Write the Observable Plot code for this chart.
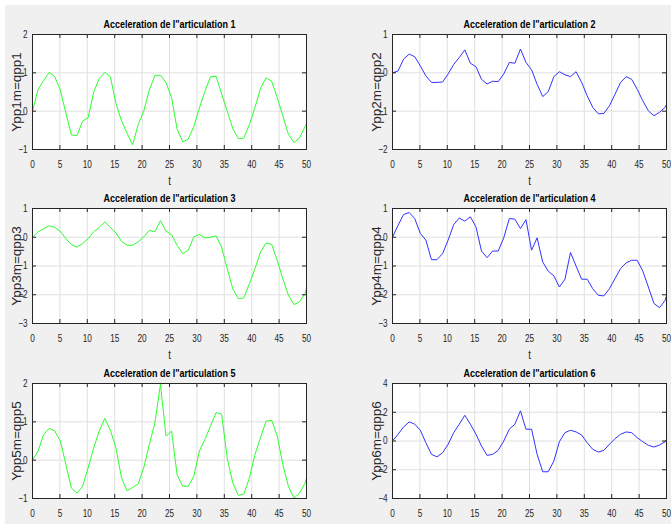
<!DOCTYPE html>
<html>
<head>
<meta charset="utf-8">
<script src="https://cdn.jsdelivr.net/npm/d3@7"></script>
<script src="https://cdn.jsdelivr.net/npm/@observablehq/plot@0.6"></script>
<style>
  html, body { margin: 0; padding: 0; background: #ffffff; }
  #fig { position: relative; width: 671px; height: 524px; overflow: hidden; background: #ffffff; }
  #bg { position: absolute; left: 5px; top: 5px; width: 666px; height: 519px; background: #f0f0f0; }
  .panel { position: absolute; }
</style>
</head>
<body>
<div id="fig"><div id="bg"></div></div>
<script>
// time samples
const T = [0,1.02,2.03,3.05,4.06,5.08,6.09,7.11,8.12,9.14,10.15,11.17,12.18,13.2,14.21,15.23,16.24,17.26,18.27,19.29,20.3,21.32,22.33,23.35,24.36,25.38,26.39,27.41,28.42,29.44,30.45,31.47,32.48,33.5,34.51,35.53,36.54,37.56,38.57,39.59,40.6,41.62,42.63,43.65,44.66,45.68,46.69,47.71,48.72,49.74,50];

const qpp1 = [0,0.57,0.8,1.01,0.9,0.55,-0.05,-0.62,-0.64,-0.26,-0.17,0.5,0.85,1.01,0.9,0.2,-0.25,-0.58,-0.88,-0.35,0.0,0.55,0.93,0.94,0.75,0.35,-0.47,-0.8,-0.73,-0.4,0.08,0.52,0.9,0.91,0.45,0.0,-0.45,-0.72,-0.7,-0.35,0.1,0.6,0.87,0.78,0.35,-0.12,-0.6,-0.82,-0.7,-0.4,-0.33];
const qpp2 = [0,0.05,0.36,0.49,0.42,0.18,-0.08,-0.25,-0.25,-0.24,-0.03,0.22,0.4,0.6,0.25,0.16,-0.17,-0.29,-0.22,-0.23,-0.03,0.27,0.25,0.62,0.27,0.08,-0.3,-0.62,-0.49,-0.1,0.03,-0.05,-0.1,0.03,-0.25,-0.6,-0.9,-1.07,-1.06,-0.86,-0.56,-0.25,-0.1,-0.17,-0.43,-0.73,-0.99,-1.12,-1.03,-0.9,-0.83];
const qpp3 = [0,0.19,0.3,0.4,0.34,0.21,-0.05,-0.26,-0.34,-0.22,-0.05,0.19,0.34,0.53,0.34,0.15,-0.14,-0.28,-0.28,-0.16,0.01,0.24,0.19,0.58,0.21,0.09,-0.28,-0.57,-0.45,0.01,0.1,-0.02,0,0.05,-0.34,-1.09,-1.79,-2.14,-2.11,-1.61,-1.09,-0.51,-0.2,-0.25,-0.8,-1.44,-2.01,-2.34,-2.25,-1.95,-1.75];
const qpp4 = [0,0.42,0.79,0.86,0.65,0.13,-0.1,-0.78,-0.78,-0.57,-0.1,0.44,0.67,0.56,0.71,0.36,-0.48,-0.71,-0.48,-0.48,-0.02,0.65,0.63,0.3,0.61,-0.45,-0.02,-0.86,-1.18,-1.34,-1.73,-1.46,-0.53,-1.0,-1.46,-1.46,-1.79,-2.02,-2.04,-1.79,-1.44,-1.09,-0.89,-0.8,-0.8,-1.18,-1.73,-2.3,-2.45,-2.2,-2.03];
const qpp5 = [0,0.24,0.67,0.83,0.76,0.5,-0.11,-0.73,-0.86,-0.68,-0.2,0.32,0.76,1.09,0.78,0.32,-0.46,-0.8,-0.71,-0.62,-0.2,0.41,0.97,1.98,0.63,0.76,-0.38,-0.68,-0.68,-0.42,0.24,0.54,0.89,1.24,1.2,0.06,-0.59,-0.92,-0.88,-0.46,0.15,0.59,1.02,1.04,0.63,-0.11,-0.68,-0.99,-0.86,-0.6,-0.46];
const qpp6 = [0,0.47,0.98,1.33,1.17,0.75,-0.12,-0.93,-1.1,-0.82,-0.23,0.58,1.17,1.79,1.17,0.47,-0.35,-1.0,-0.93,-0.65,0,0.82,1.17,2.1,0.82,0.82,-0.93,-2.14,-2.14,-1.4,-0.05,0.58,0.75,0.63,0.42,-0.12,-0.58,-0.77,-0.65,-0.23,0.16,0.47,0.63,0.58,0.23,-0.05,-0.3,-0.42,-0.28,-0.05,0.09];

const xTicks = [0,5,10,15,20,25,30,35,40,45,50];
const yTicks1 = [-1,0,1,2];
const yTicks2 = [-2,-1,0,1];
const yTicks3 = [-3,-2,-1,0,1];
const yTicks4 = [-3,-2,-1,0,1];
const yTicks5 = [-1,0,1,2];
const yTicks6 = [-4,-2,0,2,4];

const titles = ["Acceleration de l\"articulation 1","Acceleration de l\"articulation 2","Acceleration de l\"articulation 3","Acceleration de l\"articulation 4","Acceleration de l\"articulation 5","Acceleration de l\"articulation 6"];
const yLabels = ["Ypp1m=qpp1","Ypp2m=qpp2","Ypp3m=qpp3","Ypp4m=qpp4","Ypp5m=qpp5","Ypp6m=qpp6"];
const xLabel = "t";
const green = "#2bff2b";
const blue = "#3333ff";

const FONT = "'Liberation Sans', Arial, Helvetica, sans-serif";
const SQUEEZE = 0.78;

const PW = 274, PH = 115;
const ML = 32, MT = 20, MB = 40;

function panel(values, yTicks, title, ylabel, color, left, top, mr) {
  const fig = Plot.plot({
    width: ML + PW + mr,
    height: MT + PH + MB,
    marginLeft: ML, marginRight: mr, marginTop: MT, marginBottom: MB,
    x: {domain: [0, 50]},
    y: {domain: [yTicks[0], yTicks[yTicks.length - 1]]},
    style: {background: "transparent", overflow: "visible", fontFamily: FONT, color: "#262626"},
    marks: [
      Plot.frame({fill: "white", stroke: null}),
      Plot.ruleX(xTicks, {x: d => d, stroke: "#e0e0e0", strokeWidth: 1}),
      Plot.ruleY(yTicks, {y: d => d, stroke: "#e0e0e0", strokeWidth: 1}),
      Plot.lineY(values, {x: T, y: d => d, stroke: color, strokeWidth: 1}),
      Plot.ruleX(xTicks, {x: d => d, insetTop: PH - 4, stroke: "#262626"}),
      Plot.ruleX(xTicks, {x: d => d, insetBottom: PH - 4, stroke: "#262626"}),
      Plot.ruleY(yTicks, {y: d => d, insetRight: PW - 4, stroke: "#262626"}),
      Plot.ruleY(yTicks, {y: d => d, insetLeft: PW - 4, stroke: "#262626"}),
      Plot.frame({stroke: "#262626", strokeWidth: 1}),
      Plot.axisX(xTicks, {tickSize: 0, tickPadding: 11, fontSize: 10.5, label: null, fill: "#262626"}),
      Plot.axisY(yTicks, {tickSize: 0, tickPadding: 5, fontSize: 10.5, label: null, fill: "#262626"}),
      Plot.text([title], {frameAnchor: "top", lineAnchor: "middle", dy: -10, text: d => d, fontWeight: "bold", fontSize: 11.5, fill: "black"}),
      Plot.text([xLabel], {frameAnchor: "bottom", lineAnchor: "middle", dy: 31, text: d => d, fontSize: 12.5, fill: "#262626"}),
      Plot.text([ylabel], {frameAnchor: "left", textAnchor: "middle", dx: -16, rotate: -90, text: d => d, fontSize: 13.5, fill: "#262626"})
    ]
  });
  fig.classList.add("panel");
  fig.style.left = left + "px";
  fig.style.top = top + "px";
  document.getElementById("fig").appendChild(fig);
  // the reference's horizontal texts are condensed: squeeze glyphs horizontally
  fig.querySelectorAll("text").forEach(el => {
    const tr = el.getAttribute("transform") || "";
    if (tr.includes("rotate")) return;
    const len = el.getComputedTextLength();
    if (len > 0) {
      el.setAttribute("textLength", (len * SQUEEZE).toFixed(2));
      el.setAttribute("lengthAdjust", "spacingAndGlyphs");
    }
  });
}

const col1 = 0, col2 = 360;
const row1 = 14, row2 = 188, row3 = 363;
panel(qpp1, yTicks1, titles[0], yLabels[0], green, col1, row1, 8);
panel(qpp2, yTicks2, titles[1], yLabels[1], blue, col2, row1, 8);
panel(qpp3, yTicks3, titles[2], yLabels[2], green, col1, row2, 8);
panel(qpp4, yTicks4, titles[3], yLabels[3], blue, col2, row2, 8);
panel(qpp5, yTicks5, titles[4], yLabels[4], green, col1, row3, 8);
panel(qpp6, yTicks6, titles[5], yLabels[5], blue, col2, row3, 8);
</script>
</body>
</html>
